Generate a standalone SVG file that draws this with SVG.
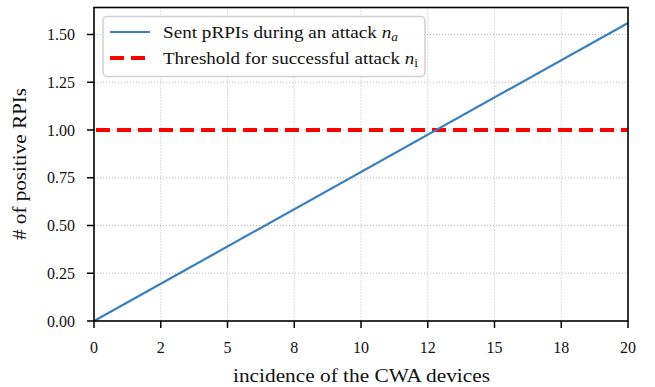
<svg xmlns="http://www.w3.org/2000/svg" width="655" height="387" viewBox="0 0 655 387">
  <style>
    .grid { stroke: #b0b0b0; stroke-width: 0.9; stroke-dasharray: 1 2; fill: none; }
    .tick { stroke: #000; stroke-width: 1.5; }
    .lbl { font-family: "Liberation Serif", "DejaVu Serif", serif; font-size: 16px; fill: #111; }
    .axlbl { font-family: "Liberation Serif", "DejaVu Serif", serif; font-size: 18px; fill: #111; }
    .leg { font-family: "Liberation Serif", "DejaVu Serif", serif; font-size: 17px; fill: #111; }
    .sent { stroke: #3a7fbd; stroke-width: 2.2; fill: none; }
    .thr { stroke: #ff0000; stroke-width: 4; stroke-dasharray: 14 7; fill: none; }
  </style>
  <rect width="655" height="387" fill="#fff"/>

  <!-- grid -->
  <g id="grid">
    <path class="grid" d="M160.75 7.5V321 M227.5 7.5V321 M294.25 7.5V321 M361 7.5V321 M427.75 7.5V321 M494.5 7.5V321 M561.25 7.5V321"/>
    <path class="grid" d="M94 273.25H628 M94 225.5H628 M94 177.75H628 M94 130H628 M94 82.25H628 M94 34.5H628"/>
  </g>

  <!-- data series -->
  <g id="series">
    <line class="thr" x1="96" y1="130" x2="628" y2="130"/>
    <line class="sent" x1="94" y1="321" x2="628" y2="23"/>
  </g>

  <!-- axes frame and ticks -->
  <g id="axes">
    <rect x="94" y="7.5" width="534" height="313.5" fill="none" stroke="#000" stroke-width="1.6"/>
    <path class="tick" d="M94 321v7 M160.75 321v7 M227.5 321v7 M294.25 321v7 M361 321v7 M427.75 321v7 M494.5 321v7 M561.25 321v7 M628 321v7"/>
    <path class="tick" d="M94 321h-7 M94 273.25h-7 M94 225.5h-7 M94 177.75h-7 M94 130h-7 M94 82.25h-7 M94 34.5h-7"/>
    <g class="lbl" text-anchor="middle">
      <text x="94" y="353">0</text>
      <text x="160.75" y="353">2</text>
      <text x="227.5" y="353">5</text>
      <text x="294.25" y="353">8</text>
      <text x="361" y="353">10</text>
      <text x="427.75" y="353">12</text>
      <text x="494.5" y="353">15</text>
      <text x="561.25" y="353">18</text>
      <text x="628" y="353">20</text>
    </g>
    <g class="lbl" text-anchor="end">
      <text x="75" y="326.5">0.00</text>
      <text x="75" y="278.75">0.25</text>
      <text x="75" y="231">0.50</text>
      <text x="75" y="183.25">0.75</text>
      <text x="75" y="135.5">1.00</text>
      <text x="75" y="87.75">1.25</text>
      <text x="75" y="40">1.50</text>
    </g>
    <text class="axlbl" x="233" y="382" textLength="257" lengthAdjust="spacingAndGlyphs">incidence of the CWA devices</text>
    <text class="axlbl" transform="translate(26 240) rotate(-90)" textLength="152" lengthAdjust="spacingAndGlyphs"># of positive RPIs</text>
  </g>

  <!-- legend -->
  <g id="legend">
    <rect x="103" y="16.5" width="322" height="60" rx="4" fill="#fff" fill-opacity="0.85" stroke="#d0d0d0" stroke-width="1.5"/>
    <line class="sent" x1="110" y1="32" x2="150" y2="32"/>
    <line x1="110" y1="58" x2="150" y2="58" stroke="#ff0000" stroke-width="4" stroke-dasharray="14 7"/>
    <text class="leg" x="163" y="37.5" textLength="235" lengthAdjust="spacingAndGlyphs">Sent pRPIs during an attack <tspan font-style="italic">n</tspan><tspan font-style="italic" font-size="12" dy="3">a</tspan></text>
    <text class="leg" x="163" y="63.5" textLength="255" lengthAdjust="spacingAndGlyphs">Threshold for successful attack <tspan font-style="italic">n</tspan><tspan font-size="12" dy="3">i</tspan></text>
  </g>
</svg>
